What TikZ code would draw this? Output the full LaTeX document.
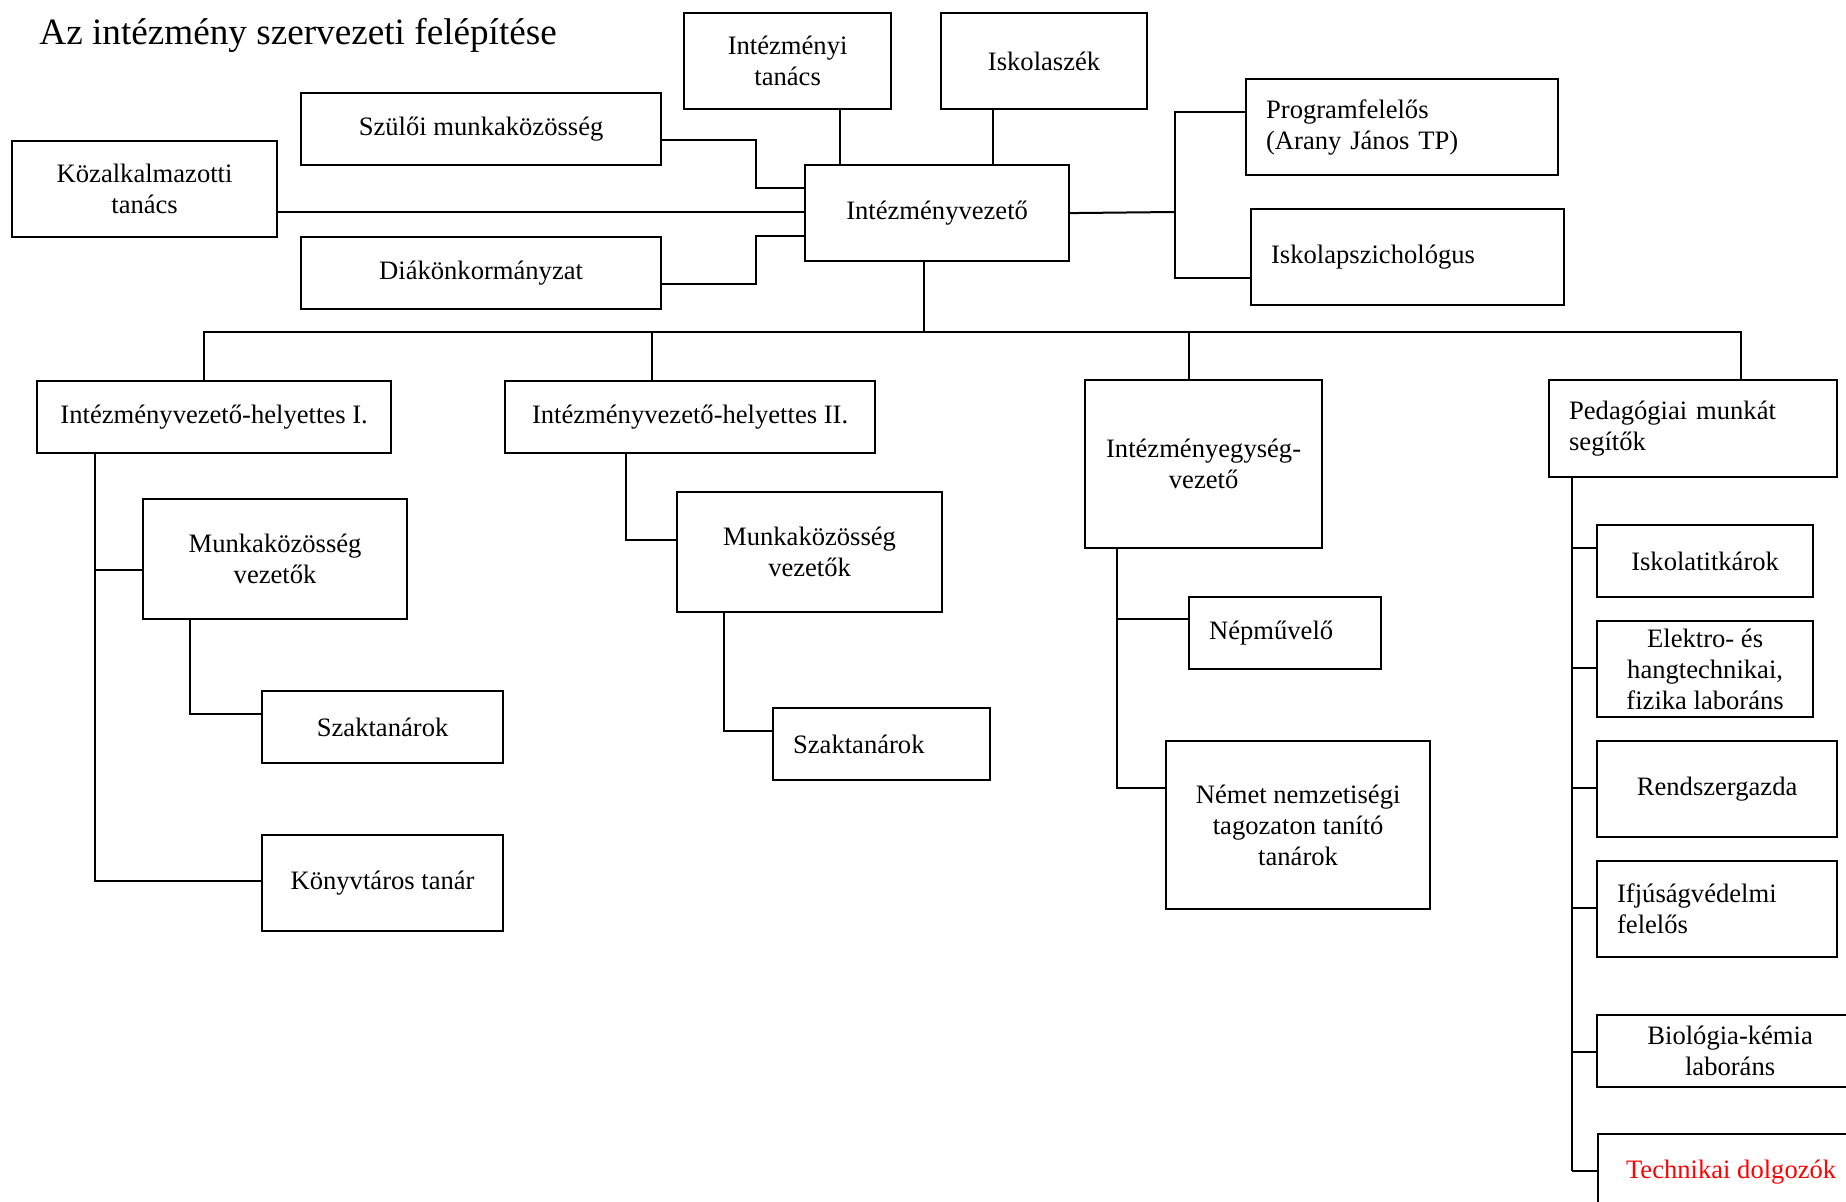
\documentclass[tikz,border=0pt]{standalone}
\usepackage{fontspec}
\setmainfont{Liberation Serif}

\newcommand*\px{0.5pt}
\newcommand*\boxpad{10pt}
\tikzset{orgbox/.style 2 args={
    draw,
    line width=1.1pt,
    rectangle,
    anchor=north west,
    inner sep=0pt,
    minimum width=#1*\px,
    minimum height=#2*\px,
    align=center,
    font=\fontsize{13.3}{15.5}\selectfont
}}
\tikzset{leftbox/.style 2 args={
    orgbox={#1}{#2},
    inner xsep=\boxpad,
    text width={#1*\px-2*\boxpad},
    align=left
}}
\tikzset{link/.style={line width=1pt}}

\begin{document}
\begin{tikzpicture}[x=\px,y=-\px]

    \useasboundingbox (0,0) rectangle (1846,1202);
    \clip (0,0) rectangle (1846,1202);

    \node[anchor=base west, inner sep=0pt, font=\fontsize{18.6}{22}\selectfont] (title) at (39,45) {Az intézmény szervezeti felépítése};

    % Top level: the head and the boards round it.
    %\node[orgbox={WIDTH}{HEIGHT}] (NAME) at (LEFT,TOP) {TEXT};
    \node[orgbox={207}{96}] (tanacs) at (683,12) {Intézményi\\tanács};
    \node[orgbox={206}{96}] (szek) at (940,12) {Iskolaszék};
    \node[orgbox={360}{72}] (szulo) at (300,92) {Szülői munkaközösség};
    \node[orgbox={265}{96}] (kozalk) at (11,140) {Közalkalmazotti\\tanács};
    \node[orgbox={264}{96}] (vez) at (804,164) {Intézményvezető};
    \node[orgbox={360}{72}] (diak) at (300,236) {Diákönkormányzat};
    \node[leftbox={312}{96}] (prog) at (1245,78) {Programfelelős\\(Arany János TP)};
    \node[leftbox={313}{96}] (pszich) at (1250,208) {Iskolapszichológus};

    % Second level.
    \node[orgbox={354}{72}] (helyI) at (36,380) {Intézményvezető-helyettes I.};
    \node[orgbox={370}{72}] (helyII) at (504,380) {Intézményvezető-helyettes II.};
    \node[orgbox={237}{168}] (egys) at (1084,379) {Intézményegység-\\vezető};
    \node[leftbox={288}{97}] (ped) at (1548,379) {Pedagógiai munkát\\segítők};

    % Under the deputies.
    \node[orgbox={264}{120}] (mkI) at (142,498) {Munkaközösség\\vezetők};
    \node[orgbox={241}{72}] (szakI) at (261,690) {Szaktanárok};
    \node[orgbox={241}{96}] (konyv) at (261,834) {Könyvtáros tanár};
    \node[orgbox={265}{120}] (mkII) at (676,491) {Munkaközösség\\vezetők};
    \node[leftbox={217}{72}] (szakII) at (772,707) {Szaktanárok};

    % Under the unit head.
    \node[leftbox={192}{72}] (nepm) at (1188,596) {Népművelő};
    \node[orgbox={264}{168}] (nemet) at (1165,740) {Német nemzetiségi\\tagozaton tanító\\tanárok};

    % Support staff.
    \node[orgbox={216}{72}] (titk) at (1596,524) {Iskolatitkárok};
    \node[orgbox={216}{96}] (elek) at (1596,620) {Elektro- és\\hangtechnikai,\\fizika laboráns};
    \node[orgbox={240}{96}] (rendsz) at (1596,740) {Rendszergazda};
    \node[leftbox={240}{96}] (ifju) at (1596,860) {Ifjúságvédelmi\\felelős};
    \node[orgbox={266}{72}] (bio) at (1596,1014) {Biológia-kémia\\laboráns};
    \node[orgbox={266}{76}, text=red] (tech) at (1597,1133) {Technikai dolgozók};

    % Lines round the head.
    \draw[link] (tanacs.south -| 840,0) -- (vez.north -| 840,0);
    \draw[link] (szek.south -| 993,0) -- (vez.north -| 993,0);
    \draw[link] (szulo.east |- 0,140) -| (756,188) -- (vez.west |- 0,188);
    \draw[link] (kozalk.east |- 0,212) -- (vez.west |- 0,212);
    \draw[link] (diak.east |- 0,284) -| (756,236) -- (vez.west |- 0,236);
    \coordinate (rbar) at (1175,212);
    \draw[link] (vez.east) -- (rbar);
    \draw[link] (prog.west |- 0,112) -| (rbar) |- (pszich.west |- 0,278);

    % The bus under the head.
    \draw[link] (vez.south -| 924,0) -- (924,332);
    \draw[link] (helyI.north -| 204,0) -- (204,332) -- (1741,332) -- (ped.north -| 1741,0);
    \draw[link] (helyII.north -| 652,0) -- (652,332);
    \draw[link] (egys.north -| 1189,0) -- (1189,332);

    % Deputy I.
    \draw[link] (helyI.south -| 95,0) |- (mkI.west |- 0,570);
    \draw[link] (helyI.south -| 95,0) |- (konyv.west |- 0,881);
    \draw[link] (mkI.south -| 190,0) |- (szakI.west |- 0,714);

    % Deputy II.
    \draw[link] (helyII.south -| 626,0) |- (mkII.west |- 0,540);
    \draw[link] (mkII.south -| 724,0) |- (szakII.west |- 0,731);

    % Unit head.
    \draw[link] (egys.south -| 1117,0) |- (nepm.west |- 0,619);
    \draw[link] (egys.south -| 1117,0) |- (nemet.west |- 0,788);

    % Support staff.
    \draw[link] (ped.south -| 1572,0) -- (1572,1171);
    \foreach \n/\y in {titk/548,elek/668,rendsz/788,ifju/908,bio/1052,tech/1171}
        \draw[link] (1572,\y) -- (\n.west |- 0,\y);

\end{tikzpicture}
\end{document}
